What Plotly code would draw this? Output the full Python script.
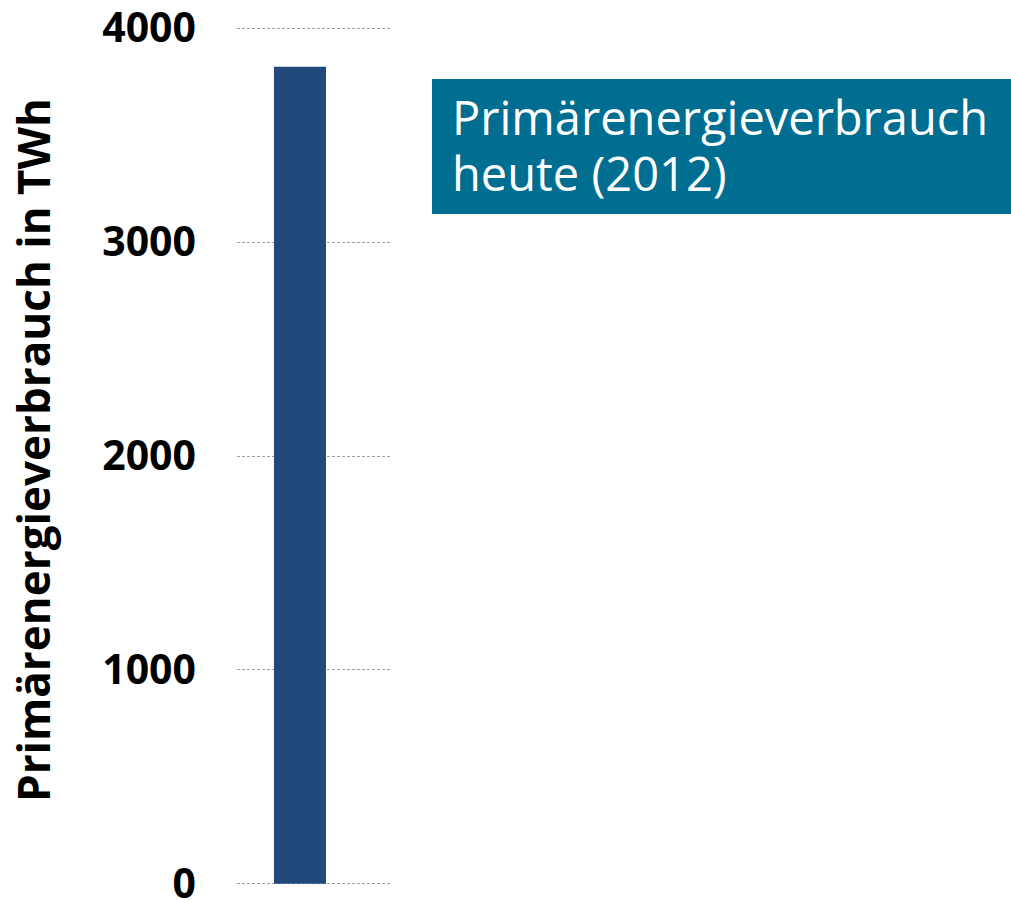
import plotly.graph_objects as go

categories = [0]
values = [3820]
tick_vals = [0, 1000, 2000, 3000, 4000]
tick_text = ["0", "1000", "2000", "3000", "4000"]
y_title = "Primärenergieverbrauch in TWh"
box_line1 = "Primärenergieverbrauch"
box_line2 = "heute (2012)"

W, H = 1011, 900
PL, PR = 237, 390
PT, PB = 28 - 2.14, 884 + 2.14


def px(x):
    return (x - PL) / (PR - PL)


def py(y):
    return (PB - y) / (PB - PT)


fig = go.Figure(go.Bar(x=categories, y=values, width=1,
                       marker=dict(color="#21497A", line=dict(width=0))))

fig.update_layout(
    width=W, height=H,
    margin=dict(l=PL, r=W - PR, t=PT, b=H - PB, autoexpand=False),
    plot_bgcolor="white", paper_bgcolor="white",
    font=dict(family="Open Sans", color="black"),
    showlegend=False,
    xaxis=dict(range=[-1.21, 1.73], showticklabels=False, showgrid=False, zeroline=False,
               showline=False, fixedrange=True),
    yaxis=dict(range=[-10, 4010], tickvals=tick_vals, ticktext=tick_text,
               tickfont=dict(size=41, family="Open Sans", weight="bold", color="black"),
               showgrid=True, gridcolor="#a0a0a0", griddash="3px,2px", gridwidth=1,
               zeroline=False, showline=False, ticklabelstandoff=40, automargin=False,
               ticklabeloverflow="allow"),
    shapes=[dict(type="rect", xref="paper", yref="paper",
                 x0=px(432), x1=px(1011), y0=py(214), y1=py(79),
                 fillcolor="#006E91", line=dict(width=0), layer="above")],
    annotations=[
        dict(text=box_line1, xref="paper", yref="paper", x=px(450), y=py(116.5),
             xanchor="left", yanchor="middle", align="left", showarrow=False,
             font=dict(size=47, color="white", family="Open Sans")),
        dict(text=box_line2, xref="paper", yref="paper", x=px(450), y=py(172.5),
             xanchor="left", yanchor="middle", align="left", showarrow=False,
             font=dict(size=47, color="white", family="Open Sans")),
        dict(text="<b>" + y_title + "</b>", xref="paper", yref="paper", x=px(33), y=py(450),
             xanchor="center", yanchor="middle", textangle=-90, showarrow=False,
             font=dict(size=44, color="black", family="Open Sans")),
    ],
)

fig.write_html("out.html", config={"displayModeBar": False},
               post_script="document.body.style.margin='0';document.body.style.overflow='hidden';")
